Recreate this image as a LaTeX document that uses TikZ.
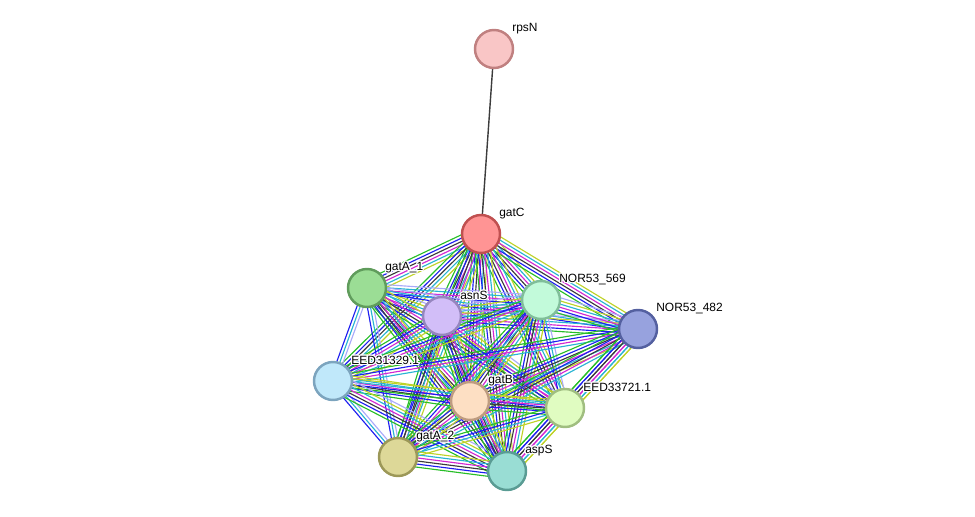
\documentclass[tikz,border=0pt]{standalone}
\usepackage{fontspec}
\setmainfont{Liberation Sans}
\usepackage{contour}
\contourlength{0.7pt}
\usetikzlibrary{calc,backgrounds}

% evidence colours
\definecolor{evgreen}{RGB}{40,190,40}
\definecolor{evblue}{RGB}{30,30,240}
\definecolor{evblack}{RGB}{60,60,60}
\definecolor{evpink}{RGB}{210,40,210}
\definecolor{evcyan}{RGB}{40,180,210}
\definecolor{evyellow}{RGB}{190,210,40}
\definecolor{evlilac}{RGB}{170,170,250}

\tikzset{
  prot/.style={circle,minimum size=0.76cm,inner sep=0pt,line width=1.4pt},
  lbl/.style={anchor=west,inner sep=0pt,font=\fontsize{6.8}{8}\selectfont},
  evline/.style={line width=0.65pt},
}

% one bundle of parallel lines between two nodes
\newcommand{\evid}[3]{%
  \edef\evlist{#3}%
  \foreach \col [count=\n] in \evlist {\xdef\nlines{\n}}%
  \foreach \col [count=\i] in \evlist {%
    \pgfmathsetmacro\off{(\i-(\nlines+1)/2)*1.75}%
    \draw[\col,evline] ($(#1)!\off pt!90:(#2)$) -- ($(#2)!\off pt!-90:(#1)$);}%
}
\def\all{evgreen,evblue,evblack,evpink,evcyan,evyellow}

\begin{document}
\begin{tikzpicture}[x=0.02cm,y=-0.02cm]
\useasboundingbox (0,0) rectangle (975,517);
% proteins
\node[prot,fill={rgb,255:red,249;green,198;blue,198},draw={rgb,255:red,192;green,128;blue,128}] (rpsN) at (494,49) {};
\node[prot,fill={rgb,255:red,255;green,148;blue,148},draw={rgb,255:red,192;green,80;blue,80}] (gatC) at (481,234) {};
\node[prot,fill={rgb,255:red,155;green,221;blue,149},draw={rgb,255:red,96;green,156;blue,92}] (gatAa) at (367,288) {};
\node[prot,fill={rgb,255:red,210;green,190;blue,248},draw={rgb,255:red,150;green,134;blue,190}] (asnS) at (442,316) {};
\node[prot,fill={rgb,255:red,194;green,250;blue,218},draw={rgb,255:red,128;green,190;blue,154}] (nor569) at (541,300) {};
\node[prot,fill={rgb,255:red,151;green,162;blue,222},draw={rgb,255:red,84;green,96;blue,160}] (nor482) at (638,329) {};
\node[prot,fill={rgb,255:red,192;green,232;blue,250},draw={rgb,255:red,124;green,164;blue,190}] (eed329) at (333,381) {};
\node[prot,fill={rgb,255:red,253;green,223;blue,195},draw={rgb,255:red,190;green,156;blue,128}] (gatB) at (470,401) {};
\node[prot,fill={rgb,255:red,224;green,252;blue,193},draw={rgb,255:red,160;green,190;blue,128}] (eed721) at (565,408) {};
\node[prot,fill={rgb,255:red,221;green,216;blue,152},draw={rgb,255:red,156;green,152;blue,88}] (gatAb) at (398,457) {};
\node[prot,fill={rgb,255:red,153;green,221;blue,212},draw={rgb,255:red,90;green,156;blue,148}] (aspS) at (507,471) {};
% names
\node[lbl] (rpsN-l) at ([shift={(18,-20)}]rpsN) {\contour{white}{rpsN}};
\node[lbl] (gatC-l) at ([shift={(18,-20)}]gatC) {\contour{white}{gatC}};
\node[lbl] (gatAa-l) at ([shift={(18,-20)}]gatAa) {\contour{white}{gatA\_1}};
\node[lbl] (asnS-l) at ([shift={(18,-20)}]asnS) {\contour{white}{asnS}};
\node[lbl] (nor569-l) at ([shift={(18,-20)}]nor569) {\contour{white}{NOR53\_569}};
\node[lbl] (nor482-l) at ([shift={(18,-20)}]nor482) {\contour{white}{NOR53\_482}};
\node[lbl] (eed329-l) at ([shift={(18,-20)}]eed329) {\contour{white}{EED31329.1}};
\node[lbl] (gatB-l) at ([shift={(18,-20)}]gatB) {\contour{white}{gatB}};
\node[lbl] (eed721-l) at ([shift={(18,-20)}]eed721) {\contour{white}{EED33721.1}};
\node[lbl] (gatAb-l) at ([shift={(18,-20)}]gatAb) {\contour{white}{gatA\_2}};
\node[lbl] (aspS-l) at ([shift={(18,-20)}]aspS) {\contour{white}{aspS}};
\begin{pgfonlayer}{background}
  \draw[evblack,line width=0.8pt] (rpsN) -- (gatC);
  % gatC
  \evid{gatC}{gatAa}{\all}
  \evid{gatC}{asnS}{\all}
  \evid{gatC}{nor569}{\all}
  \evid{gatC}{nor482}{\all}
  \evid{gatC}{eed329}{evgreen,evblue,evblack,evcyan,evyellow}
  \evid{gatC}{gatB}{\all}
  \evid{gatC}{eed721}{\all}
  \evid{gatC}{gatAb}{\all}
  \evid{gatC}{aspS}{\all}
  % gatA_1
  \evid{gatAa}{asnS}{evblue,evpink,evcyan,evyellow,evlilac}
  \evid{gatAa}{nor569}{evblue,evpink,evcyan,evlilac}
  \evid{gatAa}{nor482}{evblue,evcyan,evlilac}
  \evid{gatAa}{eed329}{evblue,evcyan,evlilac}
  \evid{gatAa}{gatB}{\all}
  \evid{gatAa}{eed721}{\all}
  \evid{gatAa}{gatAb}{evblue,evcyan,evlilac}
  \evid{gatAa}{aspS}{\all}
  % asnS
  \evid{asnS}{nor569}{evgreen,evblue,evpink,evcyan,evyellow,evlilac}
  \evid{asnS}{nor482}{evgreen,evblue,evpink,evcyan,evyellow,evlilac}
  \evid{asnS}{eed329}{evgreen,evblue,evpink,evcyan,evyellow}
  \evid{asnS}{gatB}{\all}
  \evid{asnS}{eed721}{evgreen,evblue,evpink,evcyan,evyellow,evlilac}
  \evid{asnS}{gatAb}{evgreen,evblue,evblack,evcyan,evyellow}
  \evid{asnS}{aspS}{\all}
  % NOR53_569
  \evid{nor569}{nor482}{evgreen,evblue,evpink,evcyan,evyellow,evlilac}
  \evid{nor569}{eed329}{evgreen,evblue,evpink,evcyan,evyellow}
  \evid{nor569}{gatB}{\all}
  \evid{nor569}{eed721}{evblue,evcyan,evlilac}
  \evid{nor569}{gatAb}{evgreen,evblue,evpink,evcyan,evyellow}
  \evid{nor569}{aspS}{\all}
  % NOR53_482
  \evid{nor482}{eed329}{evgreen,evblue,evpink,evcyan}
  \evid{nor482}{gatB}{\all}
  \evid{nor482}{eed721}{\all}
  \evid{nor482}{gatAb}{evgreen,evblue,evblack,evpink,evcyan}
  \evid{nor482}{aspS}{\all}
  % EED31329.1
  \evid{eed329}{gatB}{\all}
  \evid{eed329}{eed721}{evgreen,evblue,evcyan,evyellow}
  \evid{eed329}{gatAb}{evblue,evcyan,evlilac}
  \evid{eed329}{aspS}{evgreen,evblue,evblack,evpink,evcyan,evyellow,evlilac}
  % the rest
  \evid{gatB}{eed721}{\all}
  \evid{gatB}{gatAb}{\all}
  \evid{gatB}{aspS}{\all}
  \evid{eed721}{gatAb}{evgreen,evblue,evcyan,evyellow}
  \evid{eed721}{aspS}{\all}
  \evid{gatAb}{aspS}{\all}
\end{pgfonlayer}
\end{tikzpicture}
\end{document}
